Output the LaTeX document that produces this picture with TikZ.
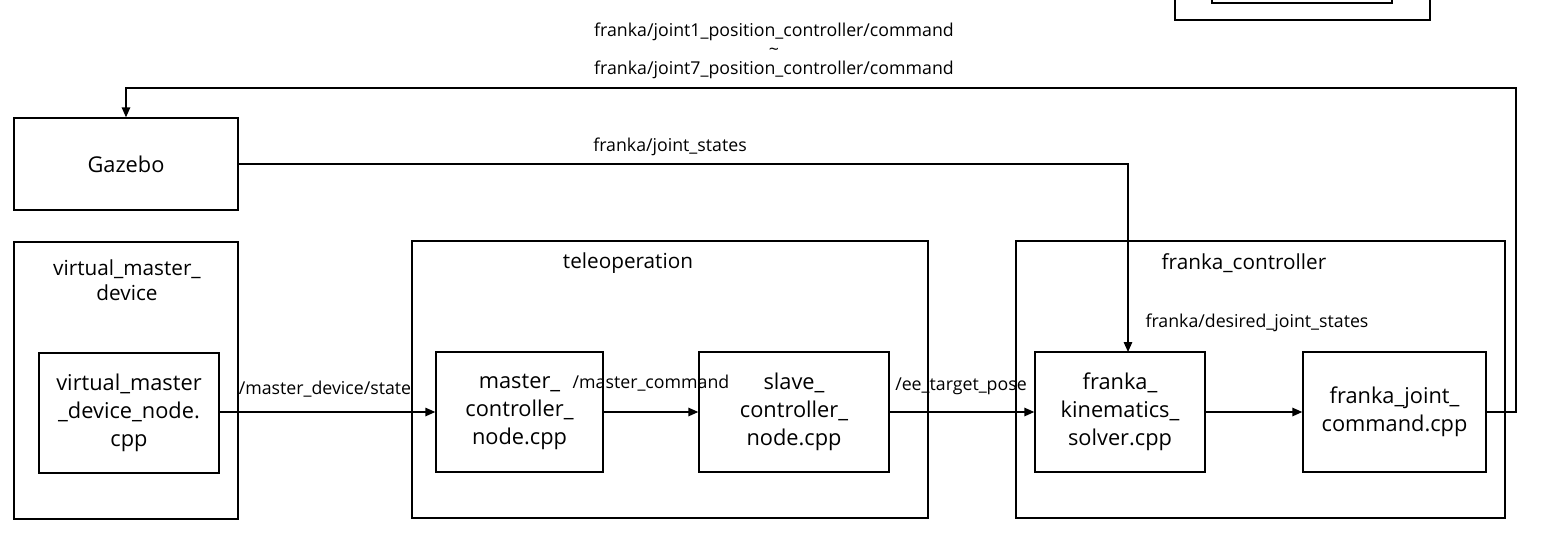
\documentclass[tikz,border=0pt]{standalone}
\usepackage{fontspec}
\setmainfont{Open Sans}
\usetikzlibrary{arrows.meta}
\begin{document}
\begin{tikzpicture}[x=0.02cm,y=-0.02cm,
  box/.style={draw, line width=0.8pt, inner sep=0pt, align=center,
    font=\fontsize{12.4pt}{15.9pt}\selectfont},
  grp/.style={draw, line width=0.8pt, inner sep=0pt},
  ttl/.style={align=center, inner sep=0pt, font=\fontsize{11.8pt}{14.2pt}\selectfont},
  lbl/.style={align=center, inner sep=0pt, font=\fontsize{10.1pt}{11pt}\selectfont},
  arr/.style={line width=0.8pt, -{Triangle[length=0.2cm,width=0.17cm]}},
  ln/.style={line width=0.8pt}]
\clip (0,0) rectangle (1559,548);
\fill[white] (0,0) rectangle (1559,548);
% cut-off box at top right
\draw[ln] (1175,-20) rectangle (1430,20);
\draw[ln] (1212,-20) rectangle (1392,3);
% groups
\node[grp, minimum width=4.48cm, minimum height=5.54cm] (vmdg) at (126,380.5) {};
\node[ttl] (vmdt) at (127,280) {virtual\_master\_\\device};
\node[grp, minimum width=10.32cm, minimum height=5.54cm] (teleg) at (670,379.5) {};
\node[ttl] (telet) at (628,263) {teleoperation};
\node[grp, minimum width=9.78cm, minimum height=5.54cm] (frg) at (1260.5,379.5) {};
\node[ttl] (frt) at (1244,263) {franka\_controller};
% boxes
\node[box, minimum width=4.48cm, minimum height=1.84cm] (gaz) at (126,164) {Gazebo};
\node[box, minimum width=3.6cm, minimum height=2.4cm] (vmd) at (129,413) {virtual\_master\\\_device\_node.\\cpp};
\node[box, minimum width=3.34cm, minimum height=2.4cm] (mc) at (519.5,412) {master\_\\controller\_\\node.cpp};
\node[box, minimum width=3.8cm, minimum height=2.4cm] (sc) at (794,412) {slave\_\\controller\_\\node.cpp};
\node[box, minimum width=3.4cm, minimum height=2.4cm] (kin) at (1120,412) {franka\_\\kinematics\_\\solver.cpp};
\node[box, minimum width=3.66cm, minimum height=2.4cm] (jc) at (1394.5,412) {franka\_joint\_\\command.cpp};
% connectors
\draw[arr] (vmd.east |- mc.west) -- (mc.west);
\draw[arr] (mc.east) -- (sc.west);
\draw[arr] (sc.east) -- (kin.west);
\draw[arr] (kin.east) -- (jc.west);
\coordinate (fb) at (1516,88);
\coordinate (gs) at (1128,352);
\draw[arr] (jc.east) -| (fb) -| (gaz.north);
\draw[arr] (gaz.east) -| (gs);
% labels
\node[lbl] (l1) at (774,51) {franka/joint1\_position\_controller/command\\\textasciitilde\\franka/joint7\_position\_controller/command};
\node[lbl] (l2) at (670,147) {franka/joint\_states};
\node[lbl] (l3) at (325,389) {/master\_device/state};
\node[lbl] (l4) at (651,383) {/master\_command};
\node[lbl] (l5) at (961,386) {/ee\_target\_pose};
\node[lbl] (l6) at (1257,323) {franka/desired\_joint\_states};
\end{tikzpicture}
\end{document}
